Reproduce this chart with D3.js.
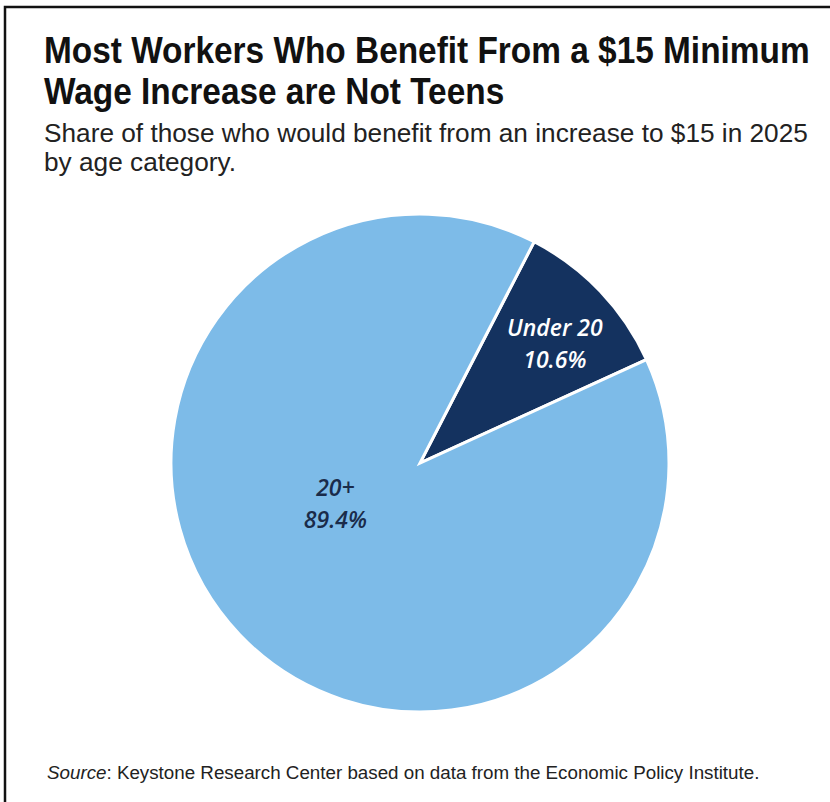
<!DOCTYPE html>
<html>
<head>
<meta charset="utf-8">
<script src="https://cdn.jsdelivr.net/npm/d3@7"></script>
<style>
  html, body { margin: 0; padding: 0; background: #fff; }
  svg { display: block; }
</style>
</head>
<body>
<svg id="chart" width="830" height="802"></svg>
<script>
// Age categories and their share of workers who would benefit
const categories = ["Under 20", "20+"];
const shares = [10.6, 89.4];
const shareLabels = ["10.6%", "89.4%"];
const sliceColors = ["#14325f", "#7dbbe8"];
const labelColors = ["#ffffff", "#1a2b4a"];

const titleLines = ["Most Workers Who Benefit From a $15 Minimum", "Wage Increase are Not Teens"];
const subtitleLines = ["Share of those who would benefit from an increase to $15 in 2025", "by age category."];
const sourceLead = "Source";
const sourceText = ": Keystone Research Center based on data from the Economic Policy Institute.";

const svg = d3.select("#chart");
const W = 830, H = 802;

// frame (only top and left edges fall inside the canvas)
svg.append("rect")
  .attr("x", 5).attr("y", 7)
  .attr("width", W + 20).attr("height", H + 20)
  .attr("fill", "#fff")
  .attr("stroke", "#111").attr("stroke-width", 2.5);

const FONT = "'Liberation Sans', Arial, sans-serif";
const LABEL_FONT = "'Open Sans', 'DejaVu Sans', sans-serif";

// helper: draw lines of text, then squeeze horizontally so the first line spans a target width
function textBlock(lines, x, y0, lineGap, size, weight, targetWidth, color) {
  const g = svg.append("g");
  const texts = lines.map((t, i) => g.append("text")
    .attr("x", 0).attr("y", i * lineGap)
    .attr("font-family", FONT)
    .attr("font-size", size)
    .attr("font-weight", weight)
    .attr("fill", color)
    .text(t));
  const natural = texts[0].node().getComputedTextLength();
  const sx = targetWidth / natural;
  g.attr("transform", `translate(${x},${y0}) scale(${sx},1)`);
  return g;
}

textBlock(titleLines, 44, 63, 41, 36.5, 700, 766, "#111");
textBlock(subtitleLines, 44, 142, 29, 26, 400, 764, "#222");

// source note
const src = svg.append("g");
const srcText = src.append("text")
  .attr("x", 0).attr("y", 0)
  .attr("font-family", FONT)
  .attr("font-size", 18.5)
  .attr("fill", "#222");
srcText.append("tspan").attr("font-style", "italic").text(sourceLead);
srcText.append("tspan").text(sourceText);
const srcW = srcText.node().getComputedTextLength();
src.attr("transform", `translate(47,779) scale(${713 / srcW},1)`);

// pie
const cx = 420, cy = 463, R = 249;
const data = categories.map((c, i) => ({ cat: c, value: shares[i], label: shareLabels[i], i }));

const startDeg = 27.3;
const pie = d3.pie()
  .sort(null)
  .value(d => d.value)
  .startAngle(startDeg * Math.PI / 180)
  .endAngle((startDeg + 360) * Math.PI / 180);

const arc = d3.arc().innerRadius(0).outerRadius(R);
const arcs = pie(data);

const pg = svg.append("g").attr("transform", `translate(${cx},${cy})`);
pg.selectAll("path.slice")
  .data(arcs)
  .join("path")
  .attr("class", "slice")
  .attr("d", arc)
  .attr("fill", d => sliceColors[d.data.i])
  .attr("stroke", "#fff")
  .attr("stroke-width", 3)
  .attr("stroke-linejoin", "miter");

// slice labels, placed relative to each slice's bisector
const labelRadius = [0.72, 0.38];
const labelAngleShift = [2.4, 17].map(v => v * Math.PI / 180);
arcs.forEach(d => {
  const i = d.data.i;
  const a = (d.startAngle + d.endAngle) / 2 + labelAngleShift[i];
  const r = R * labelRadius[i];
  const lx = Math.sin(a) * r;
  const ly = -Math.cos(a) * r;
  const t = pg.append("text")
    .attr("x", lx).attr("y", ly)
    .attr("text-anchor", "middle")
    .attr("font-family", LABEL_FONT)
    .attr("font-size", 23)
    .attr("font-weight", 600)
    .attr("font-style", "italic")
    .attr("fill", labelColors[i]);
  t.append("tspan").attr("x", lx).attr("y", ly - 9).text(d.data.cat);
  t.append("tspan").attr("x", lx).attr("y", ly + 23).text(d.data.label);
});
</script>
</body>
</html>
